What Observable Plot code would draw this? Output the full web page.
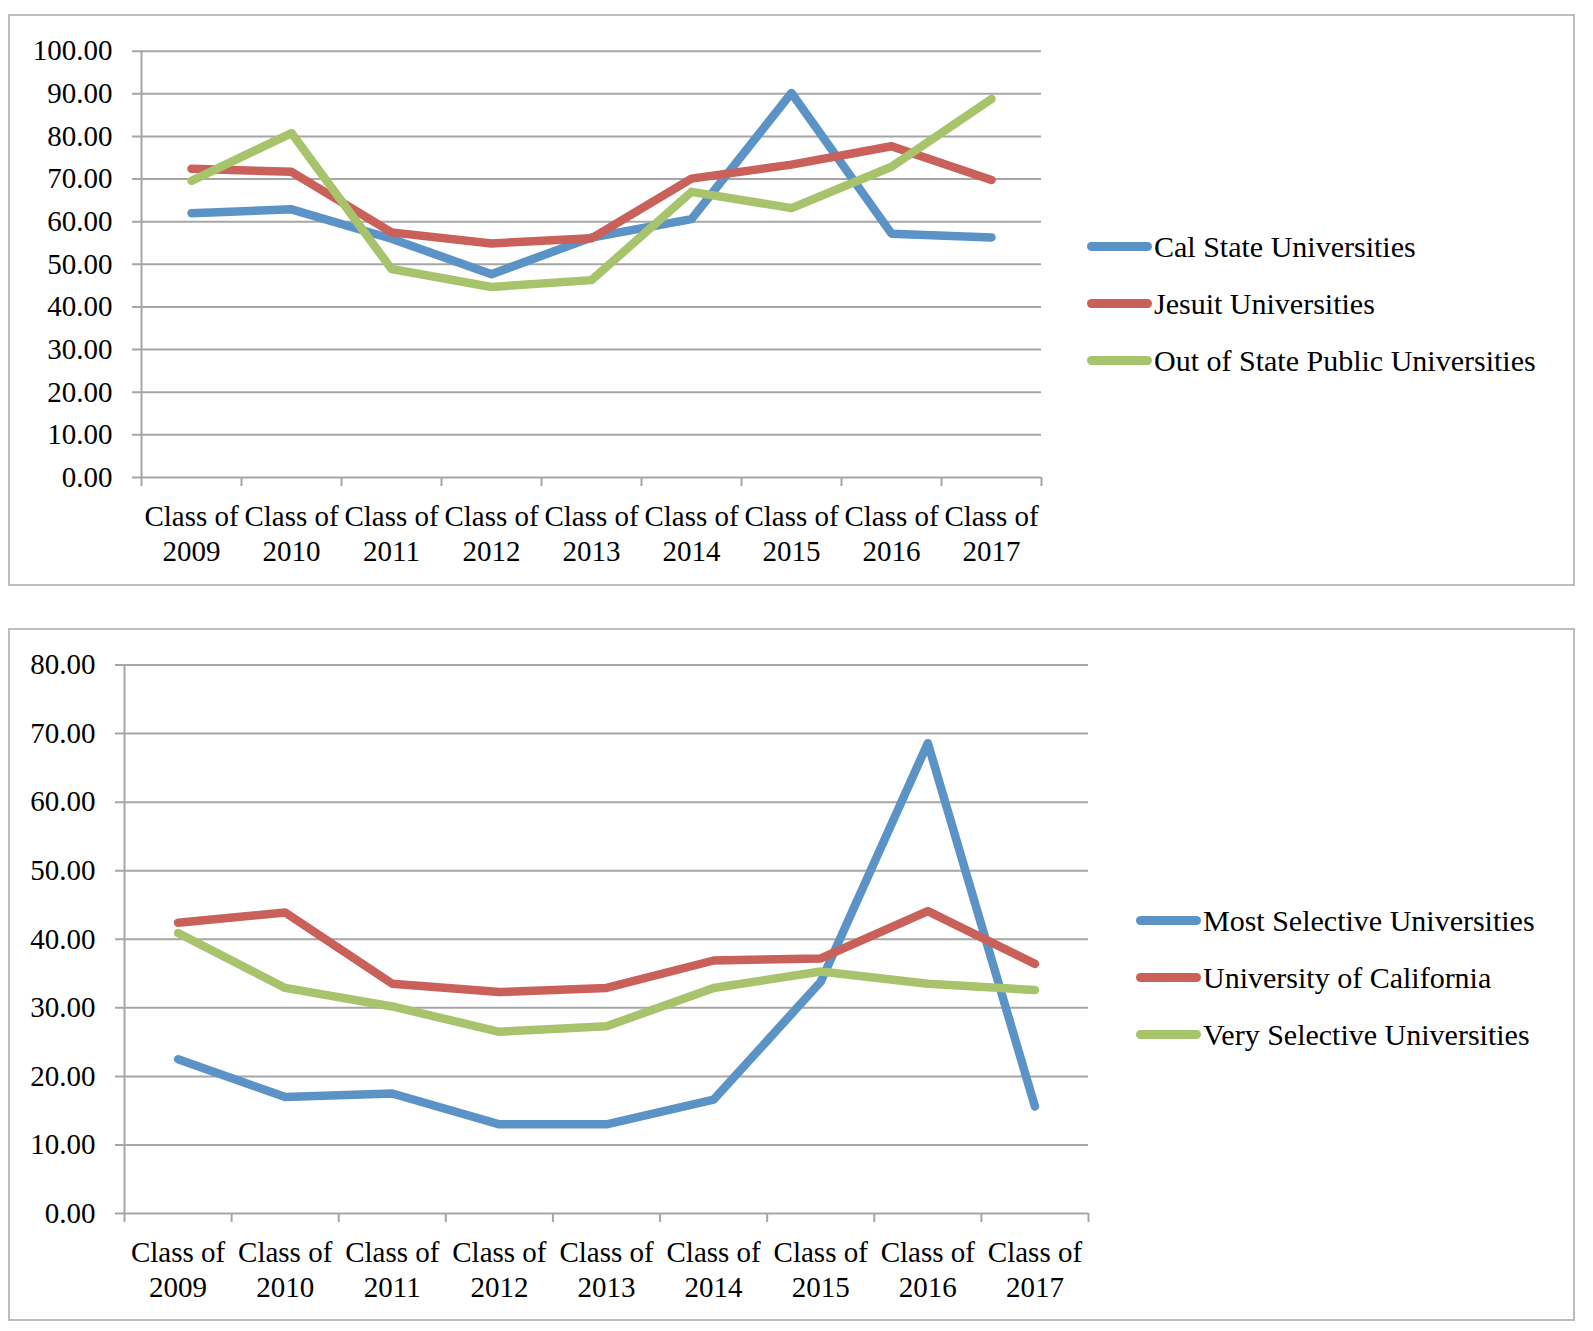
<!DOCTYPE html>
<html><head><meta charset="utf-8">
<script src="https://cdn.jsdelivr.net/npm/d3@7"></script>
<script src="https://cdn.jsdelivr.net/npm/@observablehq/plot@0.6"></script>
<style>
body{margin:0;background:#fff;font-family:"Liberation Serif",serif;}
.box{position:absolute;border:2px solid #bdbdbd;box-sizing:border-box;}
.chart{position:absolute;left:0;}
.legend{position:absolute;font-size:30px;color:#000;white-space:nowrap;}
.row{display:flex;align-items:center;height:57px;}
.sw{width:65px;height:9px;border-radius:5px;margin-right:2px;}
</style></head><body>
<div class="box" style="left:8px;top:14px;width:1567px;height:572px"></div>
<div class="box" style="left:8px;top:628px;width:1567px;height:693px"></div>
<div id="c1" class="chart" style="top:0px"></div>
<div id="c2" class="chart" style="top:628px"></div>
<div id="l1" class="legend" style="left:1087px;top:218px"></div>
<div id="l2" class="legend" style="left:1136px;top:892px"></div>
<script>
const years = ["2009","2010","2011","2012","2013","2014","2015","2016","2017"];
const colors = ["#5b93c7", "#c9605a", "#a7c36c"];

const seriesTop = ["Cal State Universities", "Jesuit Universities", "Out of State Public Universities"];
const calState   = [62.0, 62.9, 56.0, 47.7, 56.3, 60.6, 90.2, 57.2, 56.3];
const jesuit     = [72.4, 71.7, 57.5, 54.9, 56.1, 70.1, 73.4, 77.7, 69.8];
const outOfState = [69.6, 80.8, 48.9, 44.7, 46.3, 67.0, 63.2, 72.9, 88.8];

const seriesBottom = ["Most Selective Universities", "University of California", "Very Selective Universities"];
const mostSelective = [22.5, 17.0, 17.5, 13.0, 13.0, 16.6, 33.8, 68.6, 15.6];
const univCal       = [42.4, 43.9, 33.5, 32.3, 32.9, 36.9, 37.2, 44.1, 36.4];
const verySelective = [40.9, 32.9, 30.2, 26.5, 27.3, 32.9, 35.3, 33.5, 32.6];

const gray = "#a6a6a6";

function chart({series, values, yMax, ml, mt, width, mr, height, mb}) {
  const data = series.flatMap((s, k) => values[k].map((v, i) => ({s, i, v})));
  const idx = years.map((_, i) => i);
  const bounds = d3.range(years.length + 1).map(i => i - 0.5);
  const yTicks = d3.range(0, yMax + 1, 10);
  return Plot.plot({
    width, height, marginLeft: ml, marginRight: mr, marginTop: mt, marginBottom: mb,
    style: {background: "transparent", fontFamily: '"Liberation Serif", serif', fontSize: "29px", color: "black"},
    x: {type: "linear", domain: [-0.5, years.length - 0.5]},
    y: {domain: [0, yMax]},
    color: {domain: series, range: colors},
    marks: [
      Plot.ruleY(yTicks, {stroke: gray, strokeWidth: 2, insetLeft: -9}),
      Plot.ruleX([-0.5], {stroke: gray, strokeWidth: 2}),
      Plot.axisX({ticks: bounds, tickSize: 9, tickFormat: () => "", stroke: gray, strokeWidth: 2, label: null}),
      Plot.axisX({ticks: idx, tickSize: 0, tickPadding: 24, tickFormat: i => "Class of\n" + years[i], lineHeight: 1.2, fontSize: 29, label: null}),
      Plot.axisY({ticks: yTicks, tickSize: 0, tickPadding: 29, tickFormat: d => d.toFixed(2), fontSize: 29, label: null}),
      Plot.line(data, {x: "i", y: "v", z: "s", stroke: "s", strokeWidth: 8.5, strokeLinecap: "round", strokeLinejoin: "round"})
    ]
  });
}

document.getElementById("c1").append(chart({
  series: seriesTop, values: [calState, jesuit, outOfState], yMax: 100,
  ml: 141, mt: 50.7, width: 1060, mr: 19, height: 580, mb: 103
}));
document.getElementById("c2").append(chart({
  series: seriesBottom, values: [mostSelective, univCal, verySelective], yMax: 80,
  ml: 124, mt: 36.5, width: 1100, mr: 12, height: 690, mb: 105
}));

function legend(id, series) {
  const el = document.getElementById(id);
  series.forEach((s, k) => {
    const row = document.createElement("div");
    row.className = "row";
    const sw = document.createElement("div");
    sw.className = "sw";
    sw.style.background = colors[k];
    const t = document.createElement("span");
    t.textContent = s;
    row.append(sw, t);
    el.append(row);
  });
}
legend("l1", seriesTop);
legend("l2", seriesBottom);
</script>
</body></html>
